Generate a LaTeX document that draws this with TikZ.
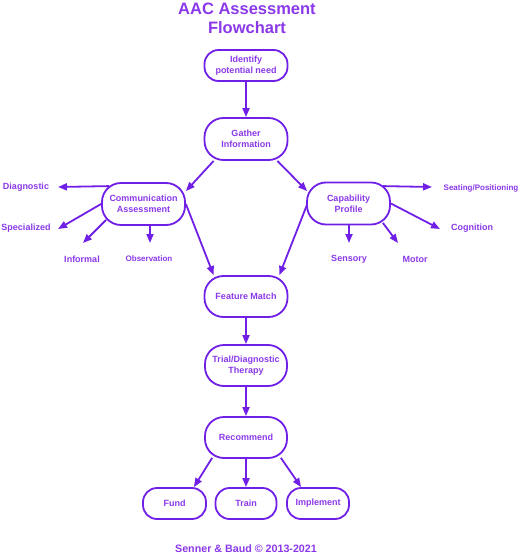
\documentclass[tikz,border=0pt]{standalone}
\usepackage{fontspec}
\setmainfont{Liberation Sans}
\usetikzlibrary{arrows.meta,calc}
\definecolor{linec}{HTML}{7020E6}
\definecolor{textc}{HTML}{8A38E8}
\tikzset{
  box/.style={draw=linec, line width=1.8pt, rounded corners=19pt, text=textc,
    font=\fontsize{9}{11}\selectfont\bfseries, align=center, inner sep=0pt,
    minimum width=83pt, minimum height=41pt},
  smallbox/.style={box, minimum height=31pt, rounded corners=14pt},
  leaf/.style={text=textc, font=\fontsize{9}{11}\selectfont\bfseries, inner sep=0pt},
  leafs/.style={leaf, font=\fontsize{8}{10}\selectfont\bfseries},
  arr/.style={draw=linec, line width=1.8pt, -{Triangle[length=9pt,width=7pt]}},
  titletext/.style={text=textc, font=\fontsize{16.5}{19}\selectfont\bfseries, inner sep=0pt},
}
\begin{document}
\begin{tikzpicture}[x=1pt,y=-1pt]
\useasboundingbox (0,0) rectangle (520,556);
% title
\node[titletext] (t1) at (247,9) {AAC Assessment};
\node[titletext] (t2) at (247,28) {Flowchart};
% main boxes
\node[smallbox] (ident) at (246,65.5) {Identify\\potential need};
\node[box, minimum height=42pt] (gather) at (246,139) {Gather\\Information};
\node[box, minimum height=42pt] (comm) at (143.5,204) {Communication\\Assessment};
\node[box, minimum height=42pt] (cap) at (348.5,203.5) {Capability\\Profile};
\node[box] (feat) at (246,296.5) {Feature Match};
\node[box, minimum width=82pt] (trial) at (246,365.5) {Trial/Diagnostic\\Therapy};
\node[box, minimum width=82pt] (rec) at (246,437.5) {Recommend};
\node[smallbox, minimum width=63pt] (fund) at (174.5,503.5) {Fund};
\node[smallbox, minimum width=61pt] (train) at (246,503.5) {Train};
\node[smallbox, minimum width=62pt] (impl) at (318,503.5) {Implement};
% leaf labels
\node[leaf] (diag) at (26,187) {Diagnostic};
\node[leaf] (spec) at (26,228) {Specialized};
\node[leaf] (inf) at (82,259) {Informal};
\node[leafs] (obs) at (149,259) {Observation};
\node[leafs] (seat) at (481,188) {Seating/Positioning};
\node[leaf] (cog) at (472,228) {Cognition};
\node[leaf] (sens) at (349,259) {Sensory};
\node[leaf] (mot) at (415,259) {Motor};
% free ends of leaf arrows
\coordinate (diagE) at (58,187);
\coordinate (specE) at (58,229);
\coordinate (infE) at (83,243);
\coordinate (obsE) at (150,243);
\coordinate (seatE) at (432,187);
\coordinate (cogE) at (440,229);
\coordinate (sensE) at (349,243);
\coordinate (motE) at (398,243);
% main connectors
\draw[arr] (ident.south) -- (gather.north);
\draw[arr] ($(gather.south west)+(10,0)$) -- ($(comm.north east)+(0,9)$);
\draw[arr] ($(gather.south east)+(-11,0)$) -- ($(cap.north west)+(1,9.5)$);
\draw[arr] (comm.east) -- ($(feat.north west)+(10,0)$);
\draw[arr] ($(cap.west)+(1,1)$) -- ($(feat.north east)+(-9,0)$);
\draw[arr] (feat.south) -- (trial.north);
\draw[arr] (trial.south) -- (rec.north);
\draw[arr] ($(rec.south west)+(8,-1)$) -- ($(fund.north east)+(-13,0)$);
\draw[arr] (rec.south) -- (train.north);
\draw[arr] ($(rec.south east)+(-7,-1)$) -- ($(impl.north west)+(15,0)$);
% leaf connectors
\draw[arr] ($(comm.north west)+(8,4)$) -- (diagE);
\draw[arr] (comm.west) -- (specE);
\draw[arr] ($(comm.south west)+(5,-6)$) -- (infE);
\draw[arr] (comm.south -| obsE) -- (obsE);
\draw[arr] ($(cap.north east)+(-8,4.5)$) -- (seatE);
\draw[arr] (cap.east) -- (cogE);
\draw[arr] (cap.south -| sensE) -- (sensE);
\draw[arr] ($(cap.south east)+(-8,-2.5)$) -- (motE);
% footer
\node[text=textc, font=\fontsize{10.7}{13}\selectfont\bfseries, inner sep=0pt] (foot) at (246,549) {Senner \& Baud © 2013-2021};
\end{tikzpicture}
\end{document}
